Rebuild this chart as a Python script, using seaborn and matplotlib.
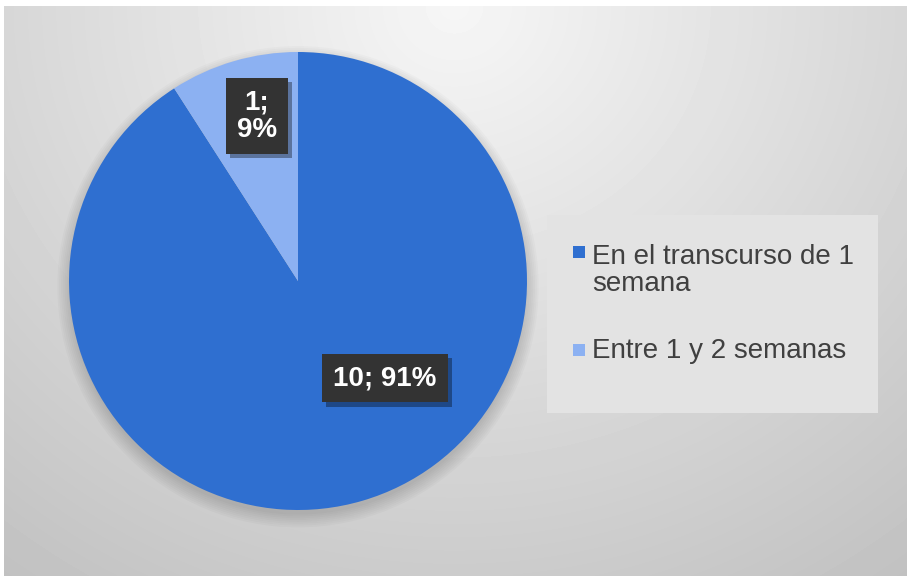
import numpy as np
import matplotlib
matplotlib.use("Agg")
import matplotlib.pyplot as plt
import matplotlib.patheffects as pe
from matplotlib.patches import Rectangle, Circle
import seaborn as sns

sns.set_theme(style="white")
plt.rcParams["font.family"] = ["Liberation Sans", "DejaVu Sans"]

# --- Data ---
categories = ["En el transcurso de 1\nsemana", "Entre 1 y 2 semanas"]
values = [10, 1]
colors = ["#2F6FD0", "#8CB1F2"]

W, H = 907, 576
fig = plt.figure(figsize=(W / 100, H / 100), dpi=100)
fig.patch.set_facecolor("white")

# --- Background (radial grey gradient) ---
bg = fig.add_axes([4 / W, 0, (W - 4) / W, (H - 6) / H])
yy, xx = np.mgrid[0:570, 0:903]
d = np.sqrt(((xx - 450) / 600.0) ** 2 + (yy / 560.0) ** 2)
shade = np.clip(0.965 - 0.165 * d, 0, 1)
bg.imshow(shade, cmap="gray", vmin=0, vmax=1, aspect="auto", interpolation="bilinear")
bg.set_axis_off()

# --- Pie ---
cx, cy, r = 298, 281, 229
ax = fig.add_axes([(cx - r) / W, (H - cy - r) / H, 2 * r / W, 2 * r / H])
ax.set_axis_off()

# soft shadow under the pie
for k in range(8):
    ax.add_patch(Circle((0, -0.025), 0.995 + 0.008 * k, facecolor="black",
                        alpha=0.02, edgecolor="none", zorder=0, clip_on=False))

wedges, _ = ax.pie(values, colors=colors, startangle=90, counterclock=False,
                   radius=1, wedgeprops=dict(linewidth=0))
for w in wedges:
    w.set_zorder(2)
ax.set_xlim(-1, 1)
ax.set_ylim(-1, 1)

total = sum(values)
pcts = [round(v / total * 100) for v in values]
label_texts = [f"{values[0]}; {pcts[0]}%", f"{values[1]};\n{pcts[1]}%"]
label_pos = [(0.38, -0.425), (-0.179, 0.72)]

for txt, (lx, ly) in zip(label_texts, label_pos):
    t = ax.text(lx, ly, txt, ha="center", va="center", fontsize=20,
                fontweight="bold", color="white", linespacing=1.1, zorder=5,
                bbox=dict(boxstyle="square,pad=0.4", facecolor="#333333",
                          edgecolor="none"))
    t.get_bbox_patch().set_path_effects(
        [pe.SimplePatchShadow(offset=(3, -3), shadow_rgbFace="black", alpha=0.35),
         pe.Normal()])

# --- Legend (box with square markers) ---
def fx(px):
    return px / W

def fy(py):
    return 1 - py / H

fig.patches.append(Rectangle((fx(547), fy(413)), fx(878) - fx(547), fy(215) - fy(413),
                             transform=fig.transFigure, facecolor="#E3E3E3",
                             edgecolor="none", zorder=1))

# first-line baselines of each entry and baseline of the entry's last line
first_baselines = [260, 358]
last_baselines = [291, 358]
for cat, col, base, last in zip(categories, colors, first_baselines, last_baselines):
    fig.patches.append(Rectangle((fx(573), fy(base - 2)), fx(12), 12 / H,
                                 transform=fig.transFigure, facecolor=col,
                                 edgecolor="none", zorder=2))
    fig.text(fx(592), fy(last), cat, ha="left", va="baseline", fontsize=20,
             color="#404040", linespacing=1.05, zorder=3)

fig.savefig("out.png", dpi=100)
